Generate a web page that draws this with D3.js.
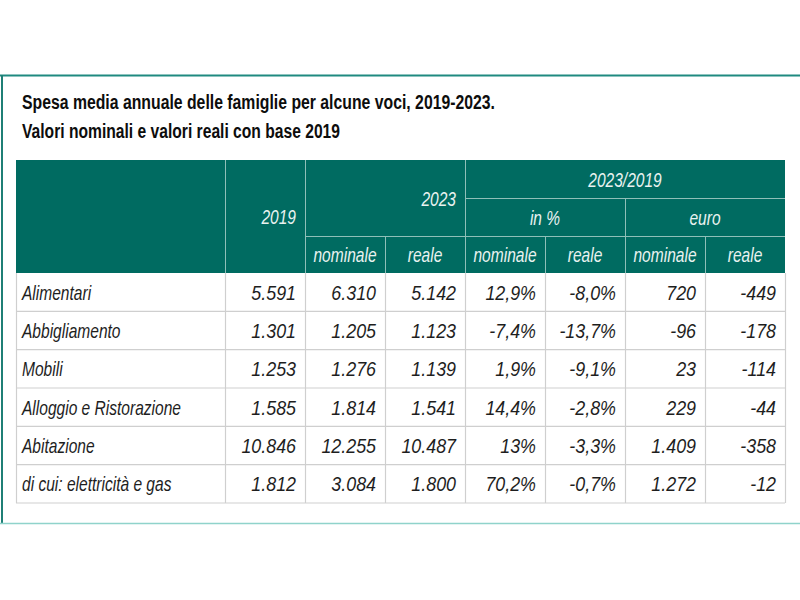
<!DOCTYPE html>
<html>
<head>
<meta charset="utf-8">
<script src="https://cdn.jsdelivr.net/npm/d3@7"></script>
<style>
  html, body { margin: 0; padding: 0; background: #fff; }
  svg { display: block; }
  text { font-family: "Liberation Sans", Arial, Helvetica, sans-serif; }
</style>
</head>
<body>
<svg id="chart" width="800" height="600"></svg>
<script>
// ---- data ----
const title1 = "Spesa media annuale delle famiglie per alcune voci, 2019-2023.";
const title2 = "Valori nominali e valori reali con base 2019";
const categories = ["Alimentari", "Abbigliamento", "Mobili", "Alloggio e Ristorazione", "Abitazione", "di cui: elettricità e gas"];
const spesa2019 = [5591, 1301, 1253, 1585, 10846, 1812];
const nominale2023 = [6310, 1205, 1276, 1814, 12255, 3084];
const reale2023 = [5142, 1123, 1139, 1541, 10487, 1800];
const pctNominale = ["12,9%", "-7,4%", "1,9%", "14,4%", "13%", "70,2%"];
const pctReale = ["-8,0%", "-13,7%", "-9,1%", "-2,8%", "-3,3%", "-0,7%"];
const euroNominale = [720, -96, 23, 229, 1409, 1272];
const euroReale = [-449, -178, -114, -44, -358, -12];
const headerYears = ["2019", "2023", "2023/2019"];
const headerGroups = ["in %", "euro"];
const headerSub = ["nominale", "reale"];

// ---- layout ----
const svg = d3.select("#chart");
const itLocale = d3.formatLocale({decimal: ",", thousands: ".", grouping: [3], currency: ["€", ""], minus: "-"});
const fmtInt = itLocale.format(",d");

const tableLeft = 16, tableRight = 785;
const colEdges = [tableLeft, 225, 305, 385, 465, 545, 625, 705, tableRight];
const headTop = 160, headRow1 = 198, headRow2 = 236, headBottom = 273, bodyBottom = 503;
const y = d3.scaleBand().domain(d3.range(categories.length)).range([headBottom, bodyBottom]).padding(0);

const teal = "#006b61";
const headLine = "#8fbfb8";
const gridLine = "#cfcfcf";
const fs = 21;

function condense(sel, k) {
  sel.each(function () {
    const w = this.getComputedTextLength();
    d3.select(this).attr("textLength", w * k).attr("lengthAdjust", "spacingAndGlyphs");
  });
}

// outer frame
svg.append("line").attr("x1", 0).attr("x2", 800).attr("y1", 75.5).attr("y2", 75.5)
  .attr("stroke", "#1f8a80").attr("stroke-width", 2);
svg.append("line").attr("x1", 2).attr("x2", 2).attr("y1", 75).attr("y2", 524)
  .attr("stroke", "#1f7f76").attr("stroke-width", 2);
svg.append("line").attr("x1", 0).attr("x2", 800).attr("y1", 523.5).attr("y2", 523.5)
  .attr("stroke", "#8fd3cb").attr("stroke-width", 1.5);

// titles
svg.append("text").attr("x", 22).attr("y", 109).text(title1)
  .attr("font-size", 20).attr("font-weight", "bold").attr("fill", "#0d0d0d")
  .attr("textLength", 473).attr("lengthAdjust", "spacingAndGlyphs");
svg.append("text").attr("x", 22).attr("y", 138).text(title2)
  .attr("font-size", 20).attr("font-weight", "bold").attr("fill", "#0d0d0d")
  .attr("textLength", 318).attr("lengthAdjust", "spacingAndGlyphs");

// header band
svg.append("rect").attr("x", tableLeft).attr("y", headTop)
  .attr("width", tableRight - tableLeft).attr("height", headBottom - headTop).attr("fill", teal);

const hl = svg.append("g").attr("stroke", headLine).attr("stroke-width", 1);
const headVLines = [
  [colEdges[1], headTop, headBottom], [colEdges[2], headTop, headBottom], [colEdges[4], headTop, headBottom],
  [colEdges[3], headRow2, headBottom], [colEdges[5], headRow2, headBottom],
  [colEdges[6], headRow1, headBottom], [colEdges[7], headRow2, headBottom]
];
hl.selectAll("line.v").data(headVLines).join("line")
  .attr("x1", d => d[0] + 0.5).attr("x2", d => d[0] + 0.5).attr("y1", d => d[1]).attr("y2", d => d[2]);
const headHLines = [[colEdges[4], tableRight, headRow1], [colEdges[2], tableRight, headRow2]];
hl.selectAll("line.h").data(headHLines).join("line")
  .attr("x1", d => d[0]).attr("x2", d => d[1]).attr("y1", d => d[2] + 0.5).attr("y2", d => d[2] + 0.5);

const headText = svg.append("g").attr("fill", "#e9f2f0").attr("font-size", fs)
  .attr("font-style", "italic");
const pad = 9;
headText.append("text").attr("x", colEdges[2] - pad).attr("y", (headTop + headBottom) / 2)
  .attr("dy", "0.36em").attr("text-anchor", "end").text(headerYears[0]);
headText.append("text").attr("x", colEdges[4] - pad).attr("y", (headTop + headRow2) / 2)
  .attr("dy", "0.36em").attr("text-anchor", "end").text(headerYears[1]);
headText.append("text").attr("x", (colEdges[4] + colEdges[8]) / 2).attr("y", (headTop + headRow1) / 2)
  .attr("dy", "0.36em").attr("text-anchor", "middle").text(headerYears[2]);
headText.selectAll("text.grp").data(headerGroups).join("text")
  .attr("x", (d, i) => (colEdges[4 + 2 * i] + colEdges[6 + 2 * i]) / 2)
  .attr("y", (headRow1 + headRow2) / 2).attr("dy", "0.36em").attr("text-anchor", "middle").text(d => d);
const subCols = [2, 3, 4, 5, 6, 7];
headText.selectAll("text.sub").data(subCols).join("text")
  .attr("x", c => (colEdges[c] + colEdges[c + 1]) / 2)
  .attr("y", (headRow2 + headBottom) / 2).attr("dy", "0.36em").attr("text-anchor", "middle")
  .text((c, i) => headerSub[i % 2]);
condense(headText.selectAll("text"), 0.74);

// body grid
const gl = svg.append("g").attr("stroke", gridLine).attr("stroke-width", 1.2);
gl.selectAll("line.h").data(d3.range(categories.length)).join("line")
  .attr("x1", tableLeft).attr("x2", tableRight)
  .attr("y1", i => y(i) + y.bandwidth()).attr("y2", i => y(i) + y.bandwidth());
gl.selectAll("line.v").data(colEdges).join("line")
  .attr("x1", d => d + 0.5).attr("x2", d => d + 0.5).attr("y1", headBottom).attr("y2", bodyBottom);

// body text
const columns = [
  spesa2019.map(fmtInt), nominale2023.map(fmtInt), reale2023.map(fmtInt),
  pctNominale, pctReale, euroNominale.map(fmtInt), euroReale.map(fmtInt)
];
const body = svg.append("g").attr("fill", "#1e1e1e").attr("font-size", fs).attr("font-style", "italic");
const cats = body.selectAll("text.cat").data(categories).join("text")
  .attr("x", 22).attr("y", (d, i) => y(i) + y.bandwidth() / 2).attr("dy", "0.36em").text(d => d);
condense(cats, 0.74);
columns.forEach((col, ci) => {
  const t = body.selectAll("text.c" + ci).data(col).join("text")
    .attr("x", colEdges[ci + 2] - pad).attr("y", (d, i) => y(i) + y.bandwidth() / 2)
    .attr("dy", "0.36em").attr("text-anchor", "end").text(d => d);
  condense(t, 0.85);
});
</script>
</body>
</html>
